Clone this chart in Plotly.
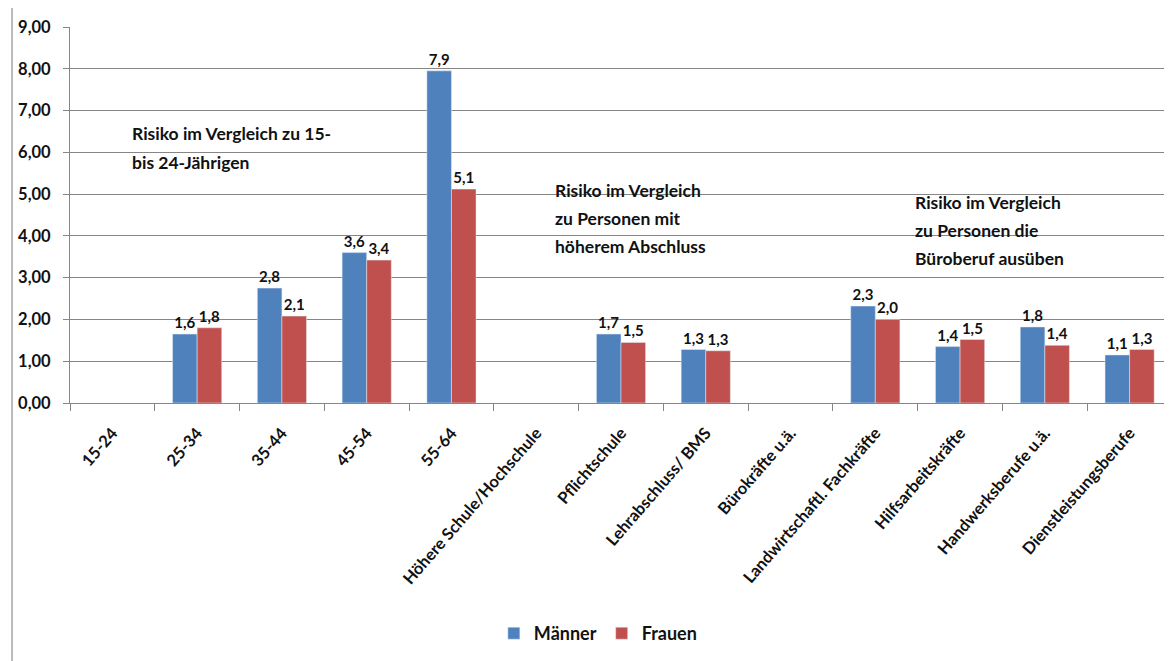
import plotly.graph_objects as go

categories = ["15-24", "25-34", "35-44", "45-54", "55-64", "Höhere Schule/Hochschule",
              "Pflichtschule", "Lehrabschluss/ BMS", "Bürokräfte u.ä.",
              "Landwirtschaftl. Fachkräfte", "Hilfsarbeitskräfte", "Handwerksberufe u.ä.",
              "Dienstleistungsberufe"]
maenner = [None, 1.65, 2.75, 3.60, 7.95, None, 1.65, 1.28, None, 2.32, 1.35, 1.82, 1.15]
frauen = [None, 1.80, 2.08, 3.42, 5.12, None, 1.45, 1.25, None, 2.00, 1.52, 1.38, 1.28]
maenner_labels = ["", "1,6", "2,8", "3,6", "7,9", "", "1,7", "1,3", "", "2,3", "1,4", "1,8", "1,1"]
frauen_labels = ["", "1,8", "2,1", "3,4", "5,1", "", "1,5", "1,3", "", "2,0", "1,5", "1,4", "1,3"]
y_ticks = [0, 1, 2, 3, 4, 5, 6, 7, 8, 9]

notes = [
    (0.054, [(6.45, "Risiko im Vergleich zu 15-"), (5.75, "bis 24-Jährigen")]),
    (0.438, [(5.08, "Risiko im Vergleich"), (4.41, "zu Personen mit"), (3.74, "höherem Abschluss")]),
    (0.765, [(4.79, "Risiko im Vergleich"), (4.12, "zu Personen die"), (3.47, "Büroberuf ausüben")]),
]

FONT = "Lato"
TXT = "#111111"

fig = go.Figure()
fig.add_trace(go.Bar(name="Männer", x=categories, y=maenner, text=maenner_labels,
                     textposition="outside", marker_color="#4F81BD", cliponaxis=False,
                     textfont=dict(family=FONT, size=15, color=TXT, weight="bold")))
fig.add_trace(go.Bar(name="Frauen", x=categories, y=frauen, text=frauen_labels,
                     textposition="outside", marker_color="#C0504D", cliponaxis=False,
                     textfont=dict(family=FONT, size=15, color=TXT, weight="bold")))

for x0, lines in notes:
    for yv, t in lines:
        fig.add_annotation(x=x0, xref="paper", y=yv, yref="y", text=t, showarrow=False,
                           xanchor="left", yanchor="middle",
                           font=dict(family=FONT, size=17.5, color=TXT, weight="bold"))

fig.add_shape(type="rect", xref="paper", yref="paper", x0=-0.0526, x1=1.05, y0=-0.75, y1=1.0586,
              line=dict(color="#a6a6a6", width=1.5), fillcolor="rgba(0,0,0,0)", layer="below")

fig.update_layout(
    width=1172, height=661,
    margin=dict(l=62, r=8, t=19, b=266, autoexpand=False),
    paper_bgcolor="white", plot_bgcolor="white",
    barmode="group", bargap=0.42, bargroupgap=0,
    separators=",.",
    font=dict(family=FONT, color=TXT),
    showlegend=True,
    legend=dict(orientation="h", x=0.479, xanchor="center", y=-0.613, yanchor="middle",
                font=dict(family=FONT, size=18, color=TXT, weight="bold"),
                itemwidth=30, tracegroupgap=0),
)
fig.update_xaxes(type="category", tickangle=-49, tickson="boundaries", ticks="outside",
                 ticklen=7, tickcolor="#868686", showline=True, linecolor="#868686",
                 linewidth=1, showgrid=False, automargin=False, ticklabelstandoff=13,
                 tickfont=dict(family=FONT, size=16.5, color=TXT, weight="bold"))
fig.update_yaxes(range=[0, 9], tickvals=y_ticks, tickformat=".2f", ticks="outside",
                 ticklen=6, tickcolor="#868686", showline=True, linecolor="#868686",
                 showgrid=True, gridcolor="#868686", gridwidth=1, zeroline=False,
                 automargin=False, ticklabelstandoff=9,
                 tickfont=dict(family=FONT, size=16.5, color=TXT, weight="bold"))

fig.write_html("out.html")
